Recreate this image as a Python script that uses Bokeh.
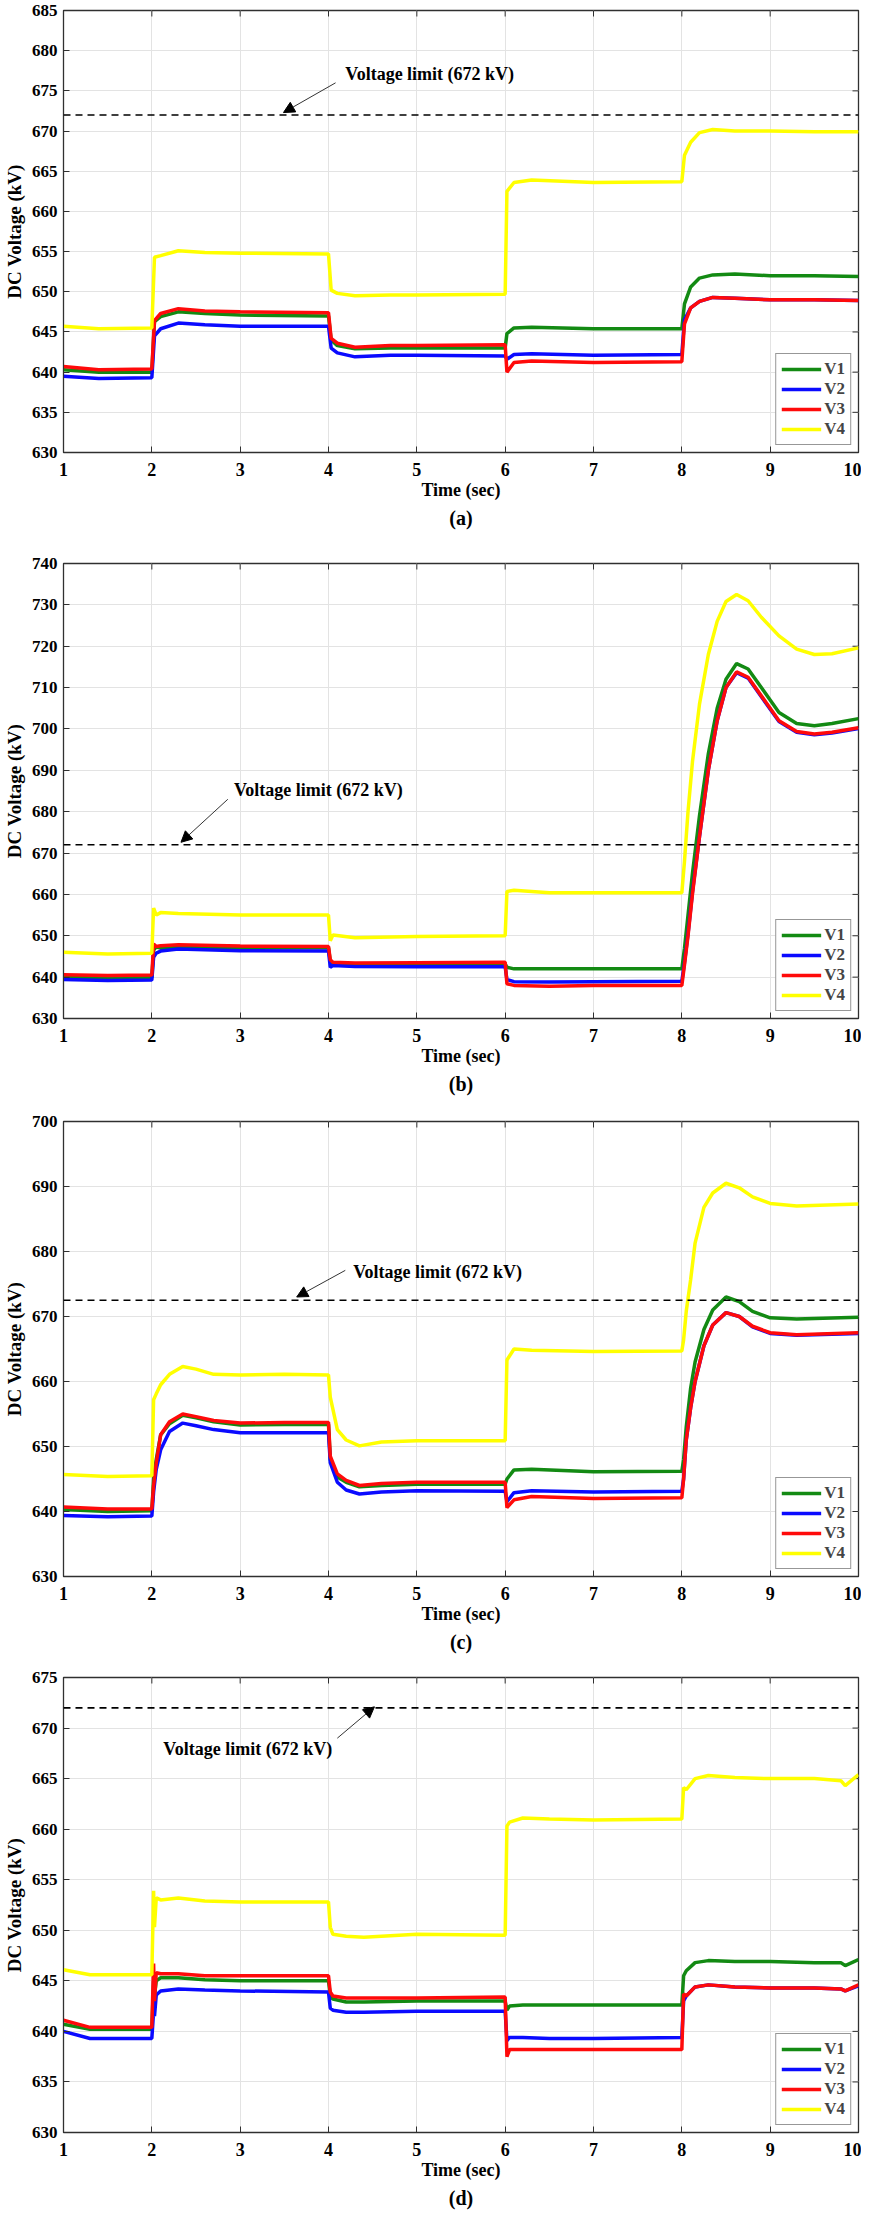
from bokeh.plotting import figure
from bokeh.models import (Range1d, FixedTicker, Label, Arrow, NormalHead, Title, Span)
from bokeh.layouts import column
from bokeh.embed import file_html
from bokeh.resources import INLINE

FONT = "Liberation Serif"
C1, C2, C3, C4 = "#138a13", "#0a0aff", "#ff0a0a", "#ffff00"
SERIES = ["V1", "V2", "V3", "V4"]
X_TICKS = [1, 2, 3, 4, 5, 6, 7, 8, 9, 10]
LIMIT_LABEL = "Voltage limit (672 kV)"

# ---------------- panel (a) ----------------
t_a = [1.0, 1.4, 2.0, 2.03, 2.1, 2.3, 2.6, 3.0, 4.0, 4.03, 4.1, 4.3, 4.7, 5.0, 6.0,
       6.02, 6.1, 6.3, 7.0, 8.0, 8.03, 8.1, 8.2, 8.35, 8.6, 9.0, 9.5, 10.0]
v1_a = [640.3, 640.0, 640.0, 646.3, 646.9, 647.5, 647.3, 647.1, 647.0, 644.0, 643.3, 642.9, 643.0, 643.0, 643.0,
        644.8, 645.5, 645.6, 645.4, 645.4, 648.5, 650.6, 651.7, 652.1, 652.2, 652.0, 652.0, 651.9]
v2_a = [639.5, 639.2, 639.3, 644.5, 645.4, 646.1, 645.9, 645.7, 645.7, 643.0, 642.4, 641.9, 642.1, 642.1, 642.0,
        641.6, 642.2, 642.3, 642.1, 642.2, 646.5, 648.0, 648.8, 649.3, 649.2, 649.0, 649.0, 648.9]
v3_a = [640.7, 640.3, 640.4, 646.4, 647.3, 647.9, 647.6, 647.5, 647.4, 644.2, 643.6, 643.1, 643.3, 643.3, 643.4,
        640.0, 641.2, 641.4, 641.2, 641.3, 646.0, 648.0, 648.8, 649.3, 649.2, 649.0, 649.0, 648.9]
v4_a = [645.7, 645.4, 645.5, 654.3, 654.5, 655.1, 654.9, 654.8, 654.7, 650.2, 649.8, 649.5, 649.6, 649.6, 649.7,
        662.5, 663.6, 663.9, 663.6, 663.7, 667.0, 668.6, 669.8, 670.2, 670.0, 670.0, 669.9, 669.9]
y_ticks_a = [630, 635, 640, 645, 650, 655, 660, 665, 670, 675, 680, 685]
limit_a = 672

# ---------------- panel (b) ----------------
t_b = [1.0, 1.5, 2.0, 2.02, 2.05, 2.1, 2.3, 3.0, 4.0, 4.02, 4.05, 4.3, 5.0, 6.0, 6.02, 6.1, 6.5, 7.0, 8.0,
       8.03, 8.07, 8.12, 8.2, 8.3, 8.4, 8.5, 8.62, 8.75, 8.9, 9.1, 9.3, 9.5, 9.7, 10.0]
v1_b = [640.0, 639.8, 639.9, 646.5, 647.3, 647.0, 647.3, 647.2, 647.1, 643.8, 643.3, 643.2, 643.1, 643.2, 642.4,
        642.0, 642.0, 642.0, 642.0, 647.0, 655.0, 665.0, 679.0, 694.0, 705.0, 712.0, 715.8, 714.5, 710.0, 704.0,
        701.3, 700.8, 701.3, 702.5]
v2_b = [639.4, 639.2, 639.3, 644.8, 645.8, 646.3, 646.8, 646.4, 646.3, 642.4, 642.8, 642.6, 642.5, 642.5, 639.4,
        638.9, 638.8, 638.9, 639.0, 643.5, 650.5, 660.5, 674.0, 690.0, 702.0, 710.0, 713.6, 712.3, 707.8, 701.8,
        699.2, 698.6, 699.0, 700.1]
v3_b = [640.6, 640.4, 640.5, 648.0, 647.4, 647.6, 647.8, 647.5, 647.4, 644.2, 643.6, 643.4, 643.5, 643.6, 638.4,
        638.0, 637.8, 638.0, 638.0, 643.0, 650.0, 660.0, 674.0, 690.0, 702.0, 710.0, 713.8, 712.5, 708.0, 702.0,
        699.4, 698.8, 699.2, 700.3]
v4_b = [646.0, 645.6, 645.8, 656.7, 655.0, 655.6, 655.4, 655.0, 655.0, 648.8, 650.2, 649.5, 649.8, 650.0, 660.7,
        661.0, 660.4, 660.4, 660.4, 668.0, 680.0, 692.0, 706.0, 718.0, 726.0, 730.8, 732.5, 731.0, 727.0, 722.5,
        719.3, 718.0, 718.2, 719.6]
y_ticks_b = [630, 640, 650, 660, 670, 680, 690, 700, 710, 720, 730, 740]
limit_b = 672

# ---------------- panel (c) ----------------
t_c = [1.0, 1.5, 2.0, 2.02, 2.05, 2.1, 2.2, 2.35, 2.5, 2.7, 3.0, 3.5, 4.0, 4.02, 4.1, 4.2, 4.35, 4.6, 5.0, 6.0,
       6.02, 6.1, 6.3, 7.0, 8.0, 8.02, 8.05, 8.1, 8.15, 8.25, 8.35, 8.5, 8.65, 8.8, 9.0, 9.3, 10.0]
v1_c = [640.3, 640.0, 640.1, 645.0, 648.0, 651.8, 653.5, 654.8, 654.4, 653.8, 653.3, 653.4, 653.4, 648.0, 645.3,
        644.5, 643.8, 644.0, 644.2, 644.2, 645.0, 646.4, 646.5, 646.1, 646.2, 648.0, 653.0, 659.0, 663.0, 668.0,
        671.0, 673.0, 672.3, 670.8, 669.8, 669.6, 669.9]
v2_c = [639.4, 639.2, 639.3, 643.0, 646.5, 649.5, 652.3, 653.6, 653.2, 652.6, 652.1, 652.1, 652.1, 647.5, 644.5,
        643.3, 642.7, 643.0, 643.2, 643.1, 641.5, 642.9, 643.2, 643.0, 643.1, 645.0, 651.0, 656.0, 660.0, 665.5,
        668.7, 670.6, 670.0, 668.4, 667.4, 667.1, 667.4]
v3_c = [640.7, 640.4, 640.4, 644.0, 647.5, 651.8, 653.8, 655.0, 654.6, 654.0, 653.6, 653.7, 653.7, 648.5, 645.8,
        644.8, 644.0, 644.3, 644.5, 644.5, 640.6, 641.8, 642.3, 642.0, 642.1, 645.0, 651.0, 656.0, 660.0, 665.5,
        668.7, 670.6, 670.0, 668.5, 667.5, 667.2, 667.5]
v4_c = [645.7, 645.4, 645.5, 657.2, 658.1, 659.5, 661.1, 662.3, 661.9, 661.1, 661.0, 661.1, 661.0, 657.6, 652.6,
        651.0, 650.1, 650.7, 650.9, 650.9, 663.3, 665.0, 664.8, 664.6, 664.7, 666.4, 670.8, 675.7, 681.3, 686.8,
        689.0, 690.5, 689.8, 688.4, 687.4, 687.0, 687.3]
y_ticks_c = [630, 640, 650, 660, 670, 680, 690, 700]
limit_c = 672.5

# ---------------- panel (d) ----------------
t_d = [1.0, 1.3, 2.0, 2.02, 2.03, 2.05, 2.1, 2.3, 2.6, 3.0, 4.0, 4.02, 4.05, 4.2, 4.4, 5.0, 6.0, 6.02, 6.05, 6.2,
       6.5, 7.0, 8.0, 8.02, 8.05, 8.15, 8.3, 8.6, 9.0, 9.5, 9.8, 9.85, 10.0]
v1_d = [640.7, 640.2, 640.2, 645.0, 643.5, 645.0, 645.3, 645.3, 645.1, 645.0, 645.0, 643.5, 643.2, 642.9, 642.9,
        643.0, 643.0, 642.1, 642.5, 642.6, 642.6, 642.6, 642.6, 645.5, 646.0, 646.8, 647.0, 646.9, 646.9, 646.8,
        646.8, 646.5, 647.1]
v2_d = [640.0, 639.3, 639.3, 642.0, 641.5, 643.6, 644.0, 644.2, 644.1, 644.0, 643.9, 642.3, 642.1, 641.9, 641.9,
        642.0, 642.0, 639.1, 639.4, 639.4, 639.3, 639.3, 639.4, 643.0, 643.5, 644.4, 644.6, 644.4, 644.3, 644.3,
        644.2, 644.0, 644.5]
v3_d = [641.1, 640.4, 640.4, 646.7, 643.0, 645.8, 645.7, 645.7, 645.5, 645.5, 645.5, 643.9, 643.5, 643.3, 643.3,
        643.3, 643.4, 637.5, 638.2, 638.2, 638.2, 638.2, 638.2, 643.7, 643.5, 644.4, 644.6, 644.4, 644.3, 644.3,
        644.2, 644.0, 644.6]
v4_d = [646.1, 645.6, 645.6, 653.9, 650.3, 653.2, 653.0, 653.2, 652.9, 652.8, 652.8, 650.3, 649.6, 649.4, 649.3,
        649.6, 649.5, 660.3, 660.7, 661.1, 661.0, 660.9, 661.0, 664.1, 663.9, 665.0, 665.3, 665.1, 665.0, 665.0,
        664.8, 664.3, 665.4]
y_ticks_d = [630, 635, 640, 645, 650, 655, 660, 665, 670, 675]
limit_d = 672

FRAME_W = 795
TICK_PX = 6
AX_COLOR = "#303030"


def panel(t, vs, yticks, limit, caption, ann, frame_h, b_top, b_bottom):
    y0, y1 = yticks[0], yticks[-1]
    x0, x1 = X_TICKS[0], X_TICKS[-1]
    p = figure(output_backend="svg", toolbar_location=None,
               frame_width=FRAME_W, frame_height=frame_h,
               x_range=Range1d(x0, x1), y_range=Range1d(y0, y1),
               min_border_top=b_top, min_border_left=0, min_border_right=3,
               min_border_bottom=b_bottom,
               background_fill_color="white", border_fill_color="white")
    p.outline_line_color = AX_COLOR
    p.outline_line_width = 1.3
    p.xaxis.ticker = FixedTicker(ticks=X_TICKS)
    p.yaxis.ticker = FixedTicker(ticks=yticks)
    p.xgrid.ticker = FixedTicker(ticks=X_TICKS)
    p.ygrid.ticker = FixedTicker(ticks=yticks)
    p.grid.grid_line_color = "#e3e3e3"
    p.grid.grid_line_width = 1
    for ax in (p.xaxis[0], p.yaxis[0]):
        ax.major_tick_in = TICK_PX
        ax.major_tick_out = 0
        ax.minor_tick_line_color = None
        ax.axis_line_color = AX_COLOR
        ax.major_tick_line_color = AX_COLOR
        ax.major_label_text_font = FONT
        ax.major_label_text_font_style = "bold"
        ax.major_label_text_color = "black"
        ax.axis_label_text_font = FONT
        ax.axis_label_text_font_style = "bold"
        ax.axis_label_text_color = "black"
    p.xaxis.major_label_text_font_size = "18px"
    p.yaxis.major_label_text_font_size = "17px"
    p.xaxis.axis_label = "Time (sec)"
    p.xaxis.axis_label_text_font_size = "18px"
    p.xaxis.major_label_standoff = 10
    p.xaxis.axis_label_standoff = 1
    p.yaxis.axis_label = "DC Voltage (kV)"
    p.yaxis.axis_label_text_font_size = "19px"
    p.yaxis.major_label_standoff = 6
    p.yaxis.axis_label_standoff = 4

    # inward tick marks on the top and right edges of the box
    dy = TICK_PX * (y1 - y0) / frame_h
    dx = TICK_PX * (x1 - x0) / FRAME_W
    p.segment(x0=X_TICKS, y0=[y1] * len(X_TICKS), x1=X_TICKS, y1=[y1 - dy] * len(X_TICKS),
              line_color=AX_COLOR, line_width=1)
    p.segment(x0=[x1] * len(yticks), y0=yticks, x1=[x1 - dx] * len(yticks), y1=yticks,
              line_color=AX_COLOR, line_width=1)

    for v, c, name in zip(vs, [C1, C2, C3, C4], SERIES):
        p.line(t, v, line_color=c, line_width=3.5, legend_label=name)

    p.add_layout(Span(location=limit, dimension="width", line_color="black",
                      line_dash="7 5", line_width=1.6))
    (lx, ly), (ax0, ay0), (ax1, ay1) = ann
    p.add_layout(Arrow(end=NormalHead(size=11, fill_color="black", line_color="black"),
                       x_start=ax0, y_start=ay0, x_end=ax1, y_end=ay1,
                       line_color="#333333", line_width=1))
    p.add_layout(Label(x=lx, y=ly, text=LIMIT_LABEL, text_font=FONT, text_font_style="bold",
                       text_font_size="18px", text_baseline="middle", text_align="left",
                       text_color="black"))

    lg = p.legend[0]
    lg.location = "bottom_right"
    lg.margin = 7
    lg.padding = 5
    lg.spacing = 0
    lg.glyph_width = 40
    lg.glyph_height = 20
    lg.label_height = 20
    lg.label_standoff = 3
    lg.label_text_font = FONT
    lg.label_text_font_style = "bold"
    lg.label_text_font_size = "17px"
    lg.border_line_color = AX_COLOR
    lg.border_line_width = 1
    lg.background_fill_alpha = 1

    p.add_layout(Title(text=caption, align="center", text_font=FONT, text_font_style="bold",
                       text_font_size="20px", standoff=4, text_color="black"), "below")
    return p


pa = panel(t_a, [v1_a, v2_a, v3_a, v4_a], y_ticks_a, limit_a, "(a)",
           ((4.19, 677.1), (4.08, 676.0), (3.49, 672.3)), 442, 10, 101)
pb = panel(t_b, [v1_b, v2_b, v3_b, v4_b], y_ticks_b, limit_b, "(b)",
           ((2.93, 685.2), (2.86, 683.0), (2.33, 672.6)), 455, 10, 93)
pc = panel(t_c, [v1_c, v2_c, v3_c, v4_c], y_ticks_c, limit_c, "(c)",
           ((4.28, 676.8), (4.19, 677.1), (3.64, 673.0)), 455, 10, 91)
pd = panel(t_d, [v1_d, v2_d, v3_d, v4_d], y_ticks_d, limit_d, "(d)",
           ((2.13, 667.9), (4.10, 669.0), (4.52, 672.1)), 455, 10, 78)

layout = column(pa, pb, pc, pd, spacing=0)
open("out.html", "w").write(file_html(layout, INLINE))
